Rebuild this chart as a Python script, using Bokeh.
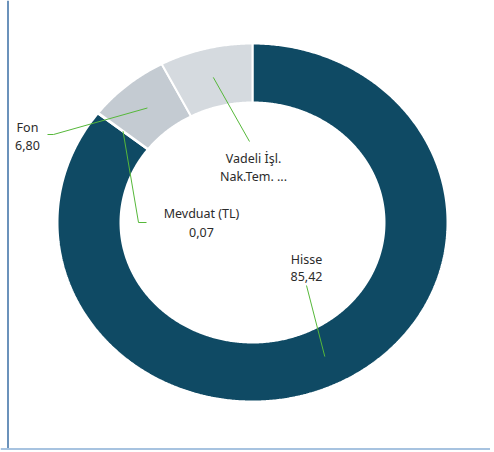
import numpy as np
from bokeh.plotting import figure
from bokeh.models import Range1d, Span, ColumnDataSource
from bokeh.core.properties import value
from bokeh.embed import file_html
from bokeh.resources import INLINE

# ---- data (clockwise from top) ----
categories = ["Hisse", "Mevduat (TL)", "Fon", "Vadeli İşl. Nak.Tem. ..."]
values = [85.42, 0.07, 6.80, 7.71]
label_line1 = ["Hisse", "Mevduat (TL)", "Fon", "Vadeli İşl."]
label_line2 = ["85,42", "0,07", "6,80", "Nak.Tem. ..."]
colors = ["#0F4A64", "#B0BAC4", "#C4CBD2", "#D5DADF"]

# ---- layout (screen pixel coordinates) ----
W, H = 490, 450
cx, cy = 252, 222
rxo, ryo = 195, 179
rxi, ryi = 132, 120
label_pos = {
    "Hisse": dict(x=306, y1=259, y2=276, leader=[(306, 285)]),
    "Mevduat (TL)": dict(x=201, y1=213, y2=232, leader=[(146, 222), (138, 222)]),
    "Fon": dict(x=27, y1=127, y2=145, leader=[(47, 134), (53, 134)]),
    "Vadeli İşl. Nak.Tem. ...": dict(x=253, y1=158, y2=176, leader=[(249, 141)]),
}

p = figure(width=W, height=H, output_backend="svg", toolbar_location=None,
           x_range=Range1d(0, W), y_range=Range1d(H, 0),
           min_border=0, outline_line_color=None)
p.axis.visible = False
p.grid.visible = False

total = sum(values)
fr = np.cumsum([0] + values) / total * 2 * np.pi

def pt(theta, rx, ry):
    return cx + rx * np.sin(theta), cy - ry * np.cos(theta)

xs, ys = [], []
for i in range(len(values)):
    a, b = fr[i], fr[i + 1]
    t = np.linspace(a, b, max(4, int((b - a) * 120)))
    ox, oy = pt(t, rxo, ryo)
    ix, iy = pt(t[::-1], rxi, ryi)
    xs.append(list(np.concatenate([ox, ix])))
    ys.append(list(np.concatenate([oy, iy])))

p.patches(xs=xs, ys=ys, fill_color=colors, line_color="white", line_width=2)

for i, cat in enumerate(categories):
    mid = (fr[i] + fr[i + 1]) / 2
    sx, sy = pt(mid, (rxo + rxi) / 2, (ryo + ryi) / 2)
    pts = [(sx, sy)] + label_pos[cat]["leader"][::-1]
    p.line([q[0] for q in pts], [q[1] for q in pts], line_color="#56B83A", line_width=1)

src = ColumnDataSource(dict(
    x=[label_pos[c]["x"] for c in categories],
    y1=[label_pos[c]["y1"] for c in categories],
    y2=[label_pos[c]["y2"] for c in categories],
    t1=label_line1, t2=label_line2))
for yk, tk in (("y1", "t1"), ("y2", "t2")):
    p.text(x="x", y=yk, text=tk, source=src, text_align="center", text_baseline="middle",
           text_font=value("Noto Sans"), text_font_size="12.5px", text_color="#2B2B2B")

p.add_layout(Span(location=7.5, dimension="height", line_color="#3A6EA5", line_width=1.5))
p.add_layout(Span(location=448.5, dimension="width", line_color="#A7C3E0", line_width=2))

open("out.html", "w").write(file_html(p, INLINE))
